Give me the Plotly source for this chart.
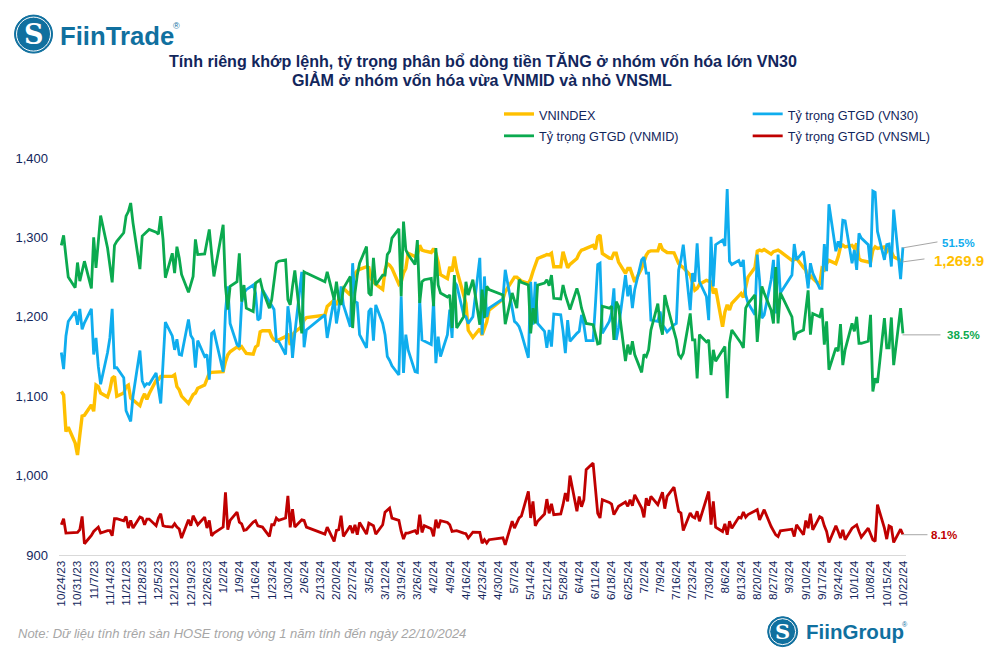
import pandas as pd
import plotly.graph_objects as go

HOLIDAYS = ["2024-01-01", "2024-02-08", "2024-02-09", "2024-02-12", "2024-02-13", "2024-02-14",
            "2024-04-18", "2024-04-29", "2024-04-30", "2024-05-01", "2024-09-02", "2024-09-03"]
dates = [d for d in pd.bdate_range("2023-10-24", "2024-10-22").strftime("%Y-%m-%d") if d not in HOLIDAYS]

vnindex = [
    1105.8, 1101.6, 1055.5, 1061,
    1041, 1026, 1051, 1075, 1076,
    1089, 1081, 1114, 1112, 1104,
    1099, 1108, 1122.6, 1125, 1100,
    1104, 1112, 1114, 1097.5, 1095,
    1088, 1097, 1103, 1096, 1103,
    1120, 1121, 1125, 1125, 1125,
    1125, 1127, 1112, 1108, 1100,
    1091, 1097, 1102, 1104, 1110,
    1114, 1123, 1129, 1130, 1130,
    1131, 1143.5, 1152, 1156,
    1162, 1160, 1162.4, 1158, 1154,
    1153, 1162, 1164, 1181, 1182.5,
    1182.5, 1175, 1171, 1169.5, 1171,
    1175, 1179, 1164.5, 1177, 1181,
    1187.5, 1196, 1199,
    1202, 1213,
    1221, 1215, 1221, 1229, 1236,
    1227.4, 1244, 1254.6, 1258, 1259.7,
    1263, 1262, 1248, 1244, 1241,
    1234.5, 1259, 1267, 1265, 1261,
    1241, 1244, 1255, 1261, 1280,
    1276, 1278, 1290, 1284, 1283,
    1281, 1286, 1280, 1269, 1253,
    1248, 1263, 1257, 1276, 1259,
    1225, 1217, 1183, 1174,
    1185, 1177, 1185.4, 1193.8, 1208.5,
    1222, 1231.5,
    1246, 1250, 1250, 1247.5, 1245,
    1242, 1247.5, 1257, 1266, 1273.5,
    1277, 1278.5, 1278, 1280, 1263,
    1263, 1282, 1271.4, 1261.7, 1266,
    1273.5, 1280, 1284, 1285, 1286,
    1290, 1285, 1300.7, 1303, 1279.8,
    1274, 1273.5, 1280, 1280, 1269,
    1254.6, 1261, 1261, 1252.5, 1244,
    1261, 1271, 1277.7, 1282, 1283,
    1283, 1292.3, 1285, 1283, 1281,
    1280.6, 1273.5, 1267, 1264, 1262,
    1252.5, 1242, 1233.6, 1235.7, 1241,
    1246, 1245, 1244, 1229.4, 1235.7,
    1187.5, 1206, 1215, 1208.5, 1217,
    1227, 1229.4, 1224.4, 1238, 1250,
    1262, 1282.7, 1284, 1283, 1284.8,
    1279, 1282, 1283, 1284, 1282,
    1271, 1272, 1273.5,
    1262, 1258.8, 1246, 1252.5, 1248.3,
    1240, 1261, 1259, 1267, 1271,
    1267, 1275.6, 1288, 1290.2, 1288,
    1290, 1286, 1292.3, 1273.5, 1271,
    1269, 1269, 1284, 1288, 1286,
    1288, 1282, 1286, 1282, 1275.6,
    1271, 1269.9,
]

vn30 = [
    35.6, 33.1, 38.1, 40.3,
    41.8, 39.8, 42.2, 39.1, 40.1,
    42.2, 35.3, 37.8, 33.5, 30.8,
    35.6, 37.8, 42.2, 33.3, 33.3,
    31.8, 26.8, 26, 25.2, 29,
    35.9, 31.3, 30.5, 30.9, 30.8,
    32.5, 30, 27.9, 34, 40.2,
    38.1, 36, 37.6, 35.3, 35.2,
    40.6, 38.2, 37.6, 33.3, 37.4,
    35, 35.3, 31.5, 38.5, 38.8,
    32.7, 41.8, 45.6, 40,
    36.8, 36.5, 43.1, 44.6, 45.1,
    45.8, 44.6, 40.5, 40.8, 45.1,
    43.3, 42.6, 42.1, 37.3, 37.3,
    35.3, 42.6, 40, 34.8, 38.5,
    47.8, 36.4, 39,
    41.3, 37.8,
    43.8, 40, 42.1, 45.6, 42.8,
    39.5, 49.1, 43.3, 43.1, 38.3,
    36.3, 41.8, 42.3, 37.4, 42.8,
    40, 38.3, 35, 34.4, 33.6,
    32.2, 44.1, 32.5, 38.3, 36,
    32.7, 32.6, 43.6, 37.5, 37.3,
    36.8, 43.6, 34, 38, 35,
    38.3, 42.1, 37.8, 46.3, 45.8,
    41.3, 41, 40, 41,
    49.9, 38.3, 47.1, 41, 42.3,
    43.7, 48.1,
    42.3, 40.3, 40, 39.5, 38.5,
    34.8, 46.3, 39.8, 46.3, 40,
    38.8, 36.3, 39, 36.5, 41.4,
    41.3, 38.8, 35.5, 40.5, 37.3,
    38.5, 38.8, 41.3, 39.8, 37.4,
    37.4, 42.8, 48.9, 49.1, 38.5,
    40.3, 41.6, 45.3, 37.5, 39.3,
    47.3, 44.1, 45.8, 42.3, 45.1,
    49.6, 50, 47.6, 47.6, 40.5,
    40.3, 41.8, 39.8, 39.3, 38.7,
    39.8, 40, 48.1, 49.6, 51.9,
    42, 47.6, 46.3, 52.1, 46.3,
    44.1, 40.5, 53.1, 45.6, 51.9,
    52.6, 51.7, 60.3, 49.4, 48.9,
    49.5, 48.6, 49.6, 44.3, 43.1,
    41.3, 50.4, 46.6, 40.8, 41.3,
    46.6, 49.6, 41.5, 50.4, 44.6,
    47.3, 52, 49.6,
    50.9, 48.1, 45.3, 49.1, 47.6,
    45.3, 45.3, 52, 47.9, 58,
    50.9, 52.4, 51.4, 55.6, 55.5,
    49.1, 51.1, 48.1, 53.6, 52.9,
    51.9, 48.5, 60, 59.8, 53.9,
    49.6, 51.9, 52, 48.6, 57.2,
    46.7, 51.5,
]

vnmid = [
    51.8, 53.3, 50.1, 47,
    45.4, 49.2, 46.4, 47.9, 49.4,
    45.3, 53, 48.4, 52.6, 56.3,
    51.4, 48.9, 46.2, 51.8, 52.4,
    53.7, 56.2, 56.9, 58.2, 55.2,
    48.2, 53.2, 53.5, 53.8, 54.2,
    53.8, 53.5, 56.2, 52.7, 46.9,
    50.6, 47.6, 51.6, 49.9, 47.4,
    44.7, 45.9, 47.1, 52.7, 50.4,
    50.5, 52.4, 54.2, 50.6, 47.1,
    54.9, 45.6, 42.1, 45.6,
    46.3, 50.6, 43.3, 45.8, 42.3,
    41.8, 46.1, 46.3, 46.6, 45.1,
    42.3, 43.6, 46.3, 49.1, 49.4,
    49.6, 43.6, 42.8, 45.6, 48,
    38.5, 47.8, 47.6,
    46.3, 47.8,
    43.6, 46.3, 43.6, 42.8, 45.3,
    47.1, 39.3, 44.6, 47.3, 49.1,
    51.6, 44.6, 44.2, 49.9, 45.8,
    47.3, 47.3, 50.4, 50.9, 52.9,
    54.3, 44.1, 55.4, 51.1, 50.4,
    48.9, 52.6, 43.1, 46.3, 46.6,
    46.8, 42.6, 51.4, 45.8, 44.6,
    44, 44.3, 39.3, 47.3, 39.3,
    41, 46.3, 44.3, 46.6,
    39.8, 45.1, 40.8, 45.6, 45.1,
    44.3, 39.9,
    44.6, 43.6, 42.3, 46.6, 46.2,
    45.8, 38.5, 42.3, 40, 45.8,
    46.1, 46.6, 45.7, 47.3, 43.8,
    43.7, 45.8, 44.3, 43.1, 42.1,
    45.3, 44.1, 42.3, 41.3, 40,
    39.8, 38.3, 36.9, 37, 42.6,
    42.3, 42.6, 37.5, 43.3, 42.6,
    34.3, 36.8, 35.3, 37.3, 35.3,
    32.6, 35.3, 35, 36, 39,
    43, 39.8, 38.3, 44.3, 42.8,
    38.8, 37.5, 35.3, 34.8, 35.5,
    41.5, 37.5, 37.5, 31.7, 38.3,
    37.2, 37.5, 32.2, 36, 34.3,
    36, 36.5, 28.7, 37, 39,
    37.5, 37, 36.3, 42.3, 43,
    44.3, 37.2, 41, 45.6, 44.6,
    42, 40, 48.5, 40, 44.6,
    41, 37.5, 38.5,
    39, 42, 45, 38.3, 41.5,
    41, 42.3, 36.8, 40.3, 33,
    36.3, 35.8, 39.9, 33.7, 36,
    40, 38.8, 41, 37, 37,
    37.3, 41.3, 29.7, 31.7, 31,
    40.8, 36.3, 36.3, 40.9, 33.7,
    42.3, 38.5,
]

vnsml = [
    9.57, 10.48, 8.31, 8.31,
    8.41, 8.41, 8.82, 10.83, 6.7,
    7.96, 8.56, 8.92, 9.22, 8.31,
    8.67, 8.67, 7.91, 10.48, 10.48,
    10.18, 10.83, 9.07, 10.23, 9.07,
    10.73, 10.58, 9.57, 10.43, 10.43,
    9.42, 10.58, 11.23, 9.42, 9.32,
    9.22, 9.72, 9.22, 8.92, 7.56,
    10.33, 9.42, 10.93, 10.33, 9.57,
    10.73, 9.07, 10.23, 7.91, 8.31,
    9.22, 14.46, 8.82, 10.23,
    11.48, 9.97, 9.72, 8.72, 8.82,
    9.97, 10.18, 9.42, 9.32, 9.22,
    7.81, 9.57, 9.57, 10.58, 10.23,
    10.58, 13.95, 9.17, 11.94, 9.22,
    10.33, 10.23, 9.22,
    8.16, 9.22,
    7.05, 8.72, 8.82, 10.93, 7.81,
    9.42, 8.31, 9.57, 8.06, 9.92,
    8.16, 9.82, 9.57, 9.42, 8.16,
    9.57, 11.48, 11.84, 12.09, 10.58,
    10.23, 8.56, 7.41, 8.31, 8.31,
    8.67, 8.16, 11.08, 8.41, 9.42,
    8.97, 7.81, 10.33, 9.07, 10.18,
    9.92, 9.57, 8.56, 8.61, 8.67,
    8.31, 8.21, 7.56, 8.46,
    8.41, 6.8, 7.31, 6.8, 7.31,
    7.6, 6.55,
    10.1, 9.07, 9.8, 10.6, 10.9,
    14.6, 10.6, 13.1, 9.4, 10.1,
    11.2, 13.45, 11.3, 12.75, 11.1,
    11.2, 12.6, 14.35, 13.1, 17,
    11.6, 13.85, 12.3, 13.35, 17.9,
    18.9, 15.1, 11.3, 10.6, 13.35,
    12.95, 12.7, 11.1, 11.85, 12.35,
    13, 12.35, 13.35, 12.45, 14.1,
    12.1, 10.7, 13.6, 12.45, 13.85,
    12.6, 13.6, 14.5, 12, 13.85,
    15.25, 13.6, 11.6, 11.35, 8.7,
    11.35, 10.8, 10.6, 11.6, 10.1,
    13.35, 14.6, 9.6, 13.1, 9.2,
    8.55, 9.7, 8.05, 10.1, 9.05,
    10.7, 10.6, 11.5, 10.7, 11.1,
    11.75, 11.85, 10.3, 11.1, 11.85,
    9.3, 8.55, 8.05, 7.8, 8.65,
    8.9, 7.8, 9.55,
    8.05, 10.2, 9.05, 11.25, 8.8,
    10.8, 10.6, 9.4, 8.55, 6.9,
    9.4, 8.55, 7.55, 8.8, 7.3,
    9.05, 9.3, 9.55, 8.55, 7.7,
    9.05, 8.3, 7.3, 7.05, 12.6,
    9.05, 7.4, 9.4, 9.2, 6.9,
    8.9, 8.1,
]

assert len(dates) == len(vnindex) == len(vn30) == len(vnmid) == len(vnsml), (
    len(dates), len(vnindex), len(vn30), len(vnmid), len(vnsml))

TITLE_1 = "Tính riêng khớp lệnh, tỷ trọng phân bổ dòng tiền TĂNG ở nhóm vốn hóa lớn VN30"
TITLE_2 = "GIẢM ở nhóm vốn hóa vừa VNMID và nhỏ VNSML"
NOTE = "Note: Dữ liệu tính trên sàn HOSE trong vòng 1 năm tính đến ngày 22/10/2024"

W, H = 993, 657
L, R, T, B = 58.5, 906.5, 158.0, 555.3
NAVY = "#12265C"
FONT = "Liberation Sans"
YELLOW, BLUE, GREEN, RED = "#FFC000", "#0FADEE", "#0BAA4F", "#C00000"
LOGO = "#10709F"


def px(x):
    return (x - L) / (R - L)


def py(y):
    return (B - y) / (B - T)


def legend_name(s):
    return f'<span style="font-size:12.7px">{s}</span>'


fig = go.Figure()
fig.add_trace(go.Scatter(x=dates, y=vnindex, name=legend_name("VNINDEX"), mode="lines", legend="legend",
                         line=dict(color=YELLOW, width=3.4), yaxis="y"))
fig.add_trace(go.Scatter(x=dates, y=vn30, name=legend_name("Tỷ trọng GTGD (VN30)"), mode="lines", legend="legend2",
                         line=dict(color=BLUE, width=2.8), yaxis="y2"))
fig.add_trace(go.Scatter(x=dates, y=vnmid, name=legend_name("Tỷ trọng GTGD (VNMID)"), mode="lines", legend="legend",
                         line=dict(color=GREEN, width=2.8), yaxis="y2"))
fig.add_trace(go.Scatter(x=dates, y=vnsml, name=legend_name("Tỷ trọng GTGD (VNSML)"), mode="lines", legend="legend2",
                         line=dict(color=RED, width=2.8), yaxis="y2"))


def text(x, y, s, size, color, anchor="left", bold=False, italic=False, family=FONT):
    if bold:
        s = f"<b>{s}</b>"
    if italic:
        s = f"<i>{s}</i>"
    fig.add_annotation(x=px(x), y=py(y), xref="paper", yref="paper", text=s, showarrow=False,
                       xanchor=anchor, yanchor="middle", align=anchor, borderpad=0, borderwidth=0,
                       font=dict(size=size, color=color, family=family))


def line(x0, y0, x1, y1):
    fig.add_shape(type="line", xref="paper", yref="paper", x0=px(x0), y0=py(y0), x1=px(x1), y1=py(y1),
                  line=dict(color="#A6A6A6", width=1))


def logo(cx, cy, r, size):
    fig.add_shape(type="circle", xref="paper", yref="paper", x0=px(cx - r), x1=px(cx + r),
                  y0=py(cy + r), y1=py(cy - r), fillcolor=LOGO, line=dict(color=LOGO, width=1))
    ri = r - 2
    fig.add_shape(type="circle", xref="paper", yref="paper", x0=px(cx - ri), x1=px(cx + ri),
                  y0=py(cy + ri), y1=py(cy - ri), line=dict(color="#FFFFFF", width=1))
    text(cx, cy, "S", size, "#FFFFFF", anchor="center", bold=True, family="DejaVu Serif")


# header and footer
logo(33, 34, 19, 27)
text(60, 36, "FiinTrade", 25.7, LOGO, bold=True)
text(173, 26, "®", 9, LOGO)
text(482.5, 61, TITLE_1, 16.1, NAVY, anchor="center", bold=True)
text(482, 80, TITLE_2, 16.1, NAVY, anchor="center", bold=True)
text(17, 634, NOTE, 13, "#A6A6A6", italic=True)
logo(783, 632, 15, 21)
text(806, 632, "FiinGroup", 20.5, LOGO, bold=True)
text(902, 625, "®", 7, LOGO)

# end labels
line(903, 248, 938, 242)
line(903, 262, 925, 259)
line(903, 335, 941, 335)
line(903, 535, 928, 535)
text(943, 243, "51.5%", 11.5, BLUE, bold=True)
text(935, 261, "1,269.9", 15, YELLOW, bold=True)
text(948, 335, "38.5%", 11.5, GREEN, bold=True)
text(932, 535, "8.1%", 11.5, RED, bold=True)

LEGEND_FONT = dict(family=FONT, size=14.5, color=NAVY)
fig.update_layout(
    width=W, height=H, autosize=False,
    margin=dict(l=L, r=W - R, t=T, b=H - B, autoexpand=False),
    paper_bgcolor="#FFFFFF", plot_bgcolor="#FFFFFF",
    font=dict(family=FONT, size=12, color=NAVY),
    showlegend=True,
    legend=dict(orientation="v", x=px(499), y=py(98), xanchor="left", yanchor="top", itemwidth=30,
                font=LEGEND_FONT, bgcolor="rgba(0,0,0,0)", traceorder="normal"),
    legend2=dict(orientation="v", x=px(748), y=py(98), xanchor="left", yanchor="top", itemwidth=30,
                 font=LEGEND_FONT, bgcolor="rgba(0,0,0,0)", traceorder="normal"),
    xaxis=dict(type="date", range=["2023-10-23", "2024-10-23 08:00"],
               tick0="2023-10-24", dtick=7 * 86400000, tickformat="%-m/%-d/%y", tickangle=-90,
               ticks="", showgrid=False, zeroline=False, showline=True, linecolor="#D9D9D9", linewidth=1,
               tickfont=dict(family=FONT, size=11.8, color=NAVY)),
    yaxis=dict(range=[900, 1400], dtick=100, tickformat=",d", ticks="", showgrid=False, zeroline=False,
               showline=False, ticklabelstandoff=10, tickfont=dict(family=FONT, size=13, color=NAVY)),
    yaxis2=dict(range=[5, 65], overlaying="y", side="right", visible=False, showgrid=False, zeroline=False),
)

fig.write_html("out.html", config={"displayModeBar": False},
               post_script="document.body.style.margin='0';")
